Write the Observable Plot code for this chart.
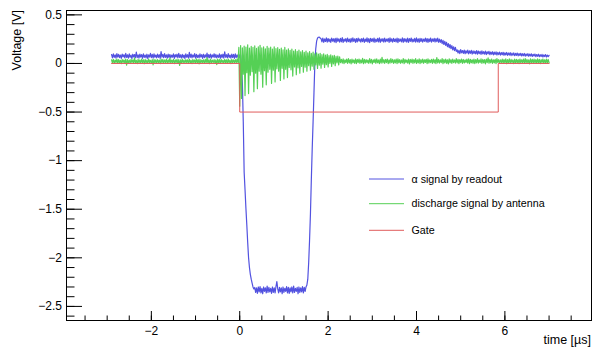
<!DOCTYPE html>
<html><head><meta charset="utf-8">
<script src="https://cdn.jsdelivr.net/npm/d3@7"></script>
<script src="https://cdn.jsdelivr.net/npm/@observablehq/plot@0.6"></script>
<style>
html,body{margin:0;padding:0;background:#fff;}
#chart{width:595px;height:348px;}
</style></head><body><div id="chart"></div>
<script>
// sampling of the two recorded waveforms (µs)
const timeStartUs = -2.9;
const timeStepUs = 0.02;

// α signal by readout (mV), one value per sample
const alphaReadoutMV = [
92,58,98,63,88,54,101,66,94,60,
87,52,96,68,90,57,104,62,89,55,
99,64,86,51,95,67,92,59,118,61,
88,56,97,65,91,53,100,63,86,58,
95,50,89,66,103,60,93,55,98,64,
87,57,96,62,90,52,122,66,94,59,
101,63,88,54,97,61,92,57,86,65,
99,53,91,67,95,58,104,62,89,56,
93,60,87,51,98,64,90,55,115,63,
96,58,88,66,102,54,94,61,87,57,
99,65,91,52,95,60,89,63,106,56,
92,59,97,54,88,66,100,61,93,57,
86,63,98,52,91,60,95,55,120,64,
90,58,102,62,87,55,96,61,93,53,
99,60,88,64,95,57,90,
-20,-200,-600,-1120,-1300,-1490,-1660,-1840,-2000,-2100,-2170,-2220,-2260,-2300,-2320,
-2305,-2355,-2310,-2365,-2300,-2350,-2295,-2360,-2315,-2370,
-2300,-2345,-2310,-2360,-2290,-2355,-2305,-2350,-2315,-2365,
-2300,-2355,-2310,-2360,-2295,-2245,-2320,-2360,-2305,-2350,
-2310,-2370,-2300,-2355,-2315,-2345,-2295,-2360,-2305,-2365,
-2310,-2350,-2300,-2360,-2290,-2355,-2315,-2345,-2305,-2370,
-2300,-2355,-2310,-2350,-2295,-2360,-2305,-2345,-2300,
-2280,-2220,-2050,-1820,-1550,-1200,-880,-600,-300,0,150,230,260,270,272,262,
255,222,260,218,252,226,263,220,257,224,
250,217,261,229,254,221,258,215,262,227,
253,219,259,223,265,216,251,228,256,220,
262,225,250,218,258,222,264,227,253,216,
257,221,261,229,252,219,255,224,260,217,
251,226,263,220,256,215,259,228,254,222,
262,218,250,225,258,221,264,216,253,227,
256,220,260,223,251,229,257,217,263,224,
254,219,259,226,252,221,261,215,256,228,
250,222,264,218,257,225,253,220,260,216,
255,227,262,221,251,224,258,219,263,223,
253,217,259,226,256,220,250,228,261,222,
257,216,254,225,262,219,252,227,258,221,
255,224,260,218,
250,218,245,205,238,195,228,185,218,172,
205,162,195,152,183,140,172,132,165,125,
140,108,135,102,142,110,133,104,138,100,
131,106,137,98,129,105,134,97,130,103,
126,99,133,95,128,101,124,94,130,98,
122,96,127,92,120,99,125,90,118,95,
121,89,116,93,119,87,114,91,117,86,
112,90,115,84,110,88,113,83,108,86,
111,81,106,85,109,80,104,83,107,78,
102,82,105,77,100,80,103,75,98,79,
101,74,96,77,99,72,94,76,97,70,
92,74,95,69,90,72,93,67,88,71,
91,66,86,70,84
];

// discharge signal by antenna (mV), one value per sample
const antennaMV = [
38,5,42,2,35,9,44,0,39,7,
33,-2,41,8,36,4,45,-18,40,6,
34,1,43,10,37,3,58,6,32,-1,
42,7,36,2,44,9,38,-3,41,5,
35,0,46,8,33,4,40,-15,43,6,
37,2,39,10,34,-1,45,5,41,3,
36,8,44,0,38,6,55,2,35,9,
42,-2,37,7,43,1,39,-20,36,4,
45,6,34,3,40,9,38,0,44,5,
33,-1,41,8,36,2,47,6,39,-4,
43,4,35,10,38,1,42,7,60,3,
37,-3,44,6,34,9,40,2,36,-12,
45,5,39,0,42,8,33,4,41,6,
38,1,44,7,35,-2,43,5,37,9,40,3,46,10,
165,-440,185,-360,160,-110,178,-330,168,-95,
192,-310,158,-120,175,-85,165,-290,180,-100,
155,-260,172,-80,186,-110,160,-245,170,-75,
150,-220,176,-90,158,-60,168,-205,148,-70,
172,-190,152,-55,162,-80,145,-175,158,-50,
140,-160,165,-60,138,-145,150,-40,135,-65,
148,-130,128,-35,142,-115,125,-45,138,-100,
120,-30,132,-90,115,-38,128,-80,110,-22,
122,-70,105,-28,116,-60,100,-15,110,-52,
96,-18,104,-48,90,-8,99,-40,86,-12,
95,-35,82,0,88,-30,78,-5,84,-22,
72,5,76,-15,68,8,
42,3,47,-2,38,8,45,0,50,5,
39,-4,44,7,36,2,48,-1,41,9,
46,1,37,6,52,-3,43,4,40,8,
35,0,49,5,42,-5,38,10,45,2,
47,7,36,-2,44,3,63,6,39,1,
41,8,46,-1,37,4,50,9,43,0,
38,5,45,-3,48,7,40,2,36,6,
49,-2,42,9,35,3,46,-4,41,8,
44,1,39,6,51,0,37,5,47,-1,
40,7,45,2,38,10,43,-3,48,4,
36,9,42,0,46,5,39,-2,60,6,
43,3,37,8,49,-1,41,5,45,2,
38,-4,47,7,40,1,44,9,36,3,
50,6,42,-2,39,8,46,0,41,5,
37,10,45,3,48,-3,43,7,38,2,
44,-1,40,6,51,4,36,9,47,0,
42,5,39,-4,45,8,58,2,41,7,
46,1,38,6,43,-2,49,10,40,3,
37,8,44,0,41,5,47,-3,39,6,
48,2,42,9,36,-1,45,4,43,7,
40,-2,46,5,38,10,44,1,50,3,
41,6,37,-4,47,8,42,0,45,5,
39,2,48,7,43,-1,40,9,46,4,
38,6,44,1,41,8
];

// gate (µs, V)
const gateTimeUs = [-2.9, 0.0, 0.0, 5.85, 5.85, 7.0];
const gateV = [0, 0, -0.5, -0.5, 0, 0];

const legendLabels = ["\u03b1 signal by readout", "discharge signal by antenna", "Gate"];
const yMajorTicks = [0.5, 0, -0.5, -1, -1.5, -2, -2.5];
const xMajorTicks = [-2, 0, 2, 4, 6];

const colors = ["#5252e0", "#55d055", "#e05c5c"];
const toRows = arr => arr.map((mv, i) => ({t: timeStartUs + i * timeStepUs, v: mv / 1000}));
const alphaRows = toRows(alphaReadoutMV);
const antennaRows = toRows(antennaMV);
const gateRows = gateTimeUs.map((t, i) => ({t, v: gateV[i]}));

const yMinorTicks = d3.range(-26, 6).map(k => k / 10);
const xMinorTicks = d3.range(-7, 16).map(k => k / 2);
const fmt = d => (d < 0 ? "\u2212" : "") + Math.abs(d);

const font = "'Liberation Sans', Arial, Helvetica, sans-serif";
const chart = Plot.plot({
  width: 595, height: 348,
  marginLeft: 66, marginRight: 4, marginTop: 10, marginBottom: 28,
  style: {fontFamily: font, fontSize: "12px", color: "#000", background: "#fff"},
  x: {domain: [-3.92, 7.96]},
  y: {domain: [-2.645, 0.545]},
  marks: [
    Plot.line(alphaRows, {x: "t", y: "v", stroke: colors[0], strokeWidth: 1.2}),
    Plot.line(antennaRows, {x: "t", y: "v", stroke: colors[1], strokeWidth: 1.2}),
    Plot.line(gateRows, {x: "t", y: "v", stroke: colors[2], strokeWidth: 1}),
    Plot.axisY({ticks: yMinorTicks, tickSize: -8.5, tickFormat: () => "", label: null}),
    Plot.axisY({ticks: yMajorTicks, tickSize: -16, tickPadding: 20.5, tickFormat: fmt, label: null, fontSize: 12}),
    Plot.axisX({ticks: xMinorTicks, tickSize: -4.5, tickFormat: () => "", label: null}),
    Plot.axisX({ticks: xMajorTicks, tickSize: -9, tickPadding: 14.7, tickFormat: fmt, label: null, fontSize: 12}),
    Plot.frame({stroke: "#000", strokeWidth: 1})
  ]
});
document.getElementById("chart").appendChild(chart);

const svg = d3.select(chart);
svg.append("text")
  .attr("transform", "translate(21,10) rotate(-90)")
  .attr("text-anchor", "end")
  .style("font-family", font).style("font-size", "12.5px")
  .text("Voltage [V]");
svg.append("text")
  .attr("x", 591).attr("y", 344)
  .attr("text-anchor", "end")
  .style("font-family", font).style("font-size", "12.5px")
  .text("time [\u00b5s]");

const legendY = [179, 203.7, 230.3];
const lg = svg.append("g").attr("text-anchor", "start");
legendLabels.forEach((name, i) => {
  lg.append("line").attr("x1", 369).attr("x2", 404)
    .attr("y1", legendY[i]).attr("y2", legendY[i])
    .attr("stroke", colors[i]).attr("stroke-width", 1);
  lg.append("text").attr("x", 411.5).attr("y", legendY[i]).attr("dy", "0.35em")
    .attr("text-anchor", "start")
    .style("font-family", font).style("font-size", "10.7px")
    .text(name);
});
</script>
</body></html>
